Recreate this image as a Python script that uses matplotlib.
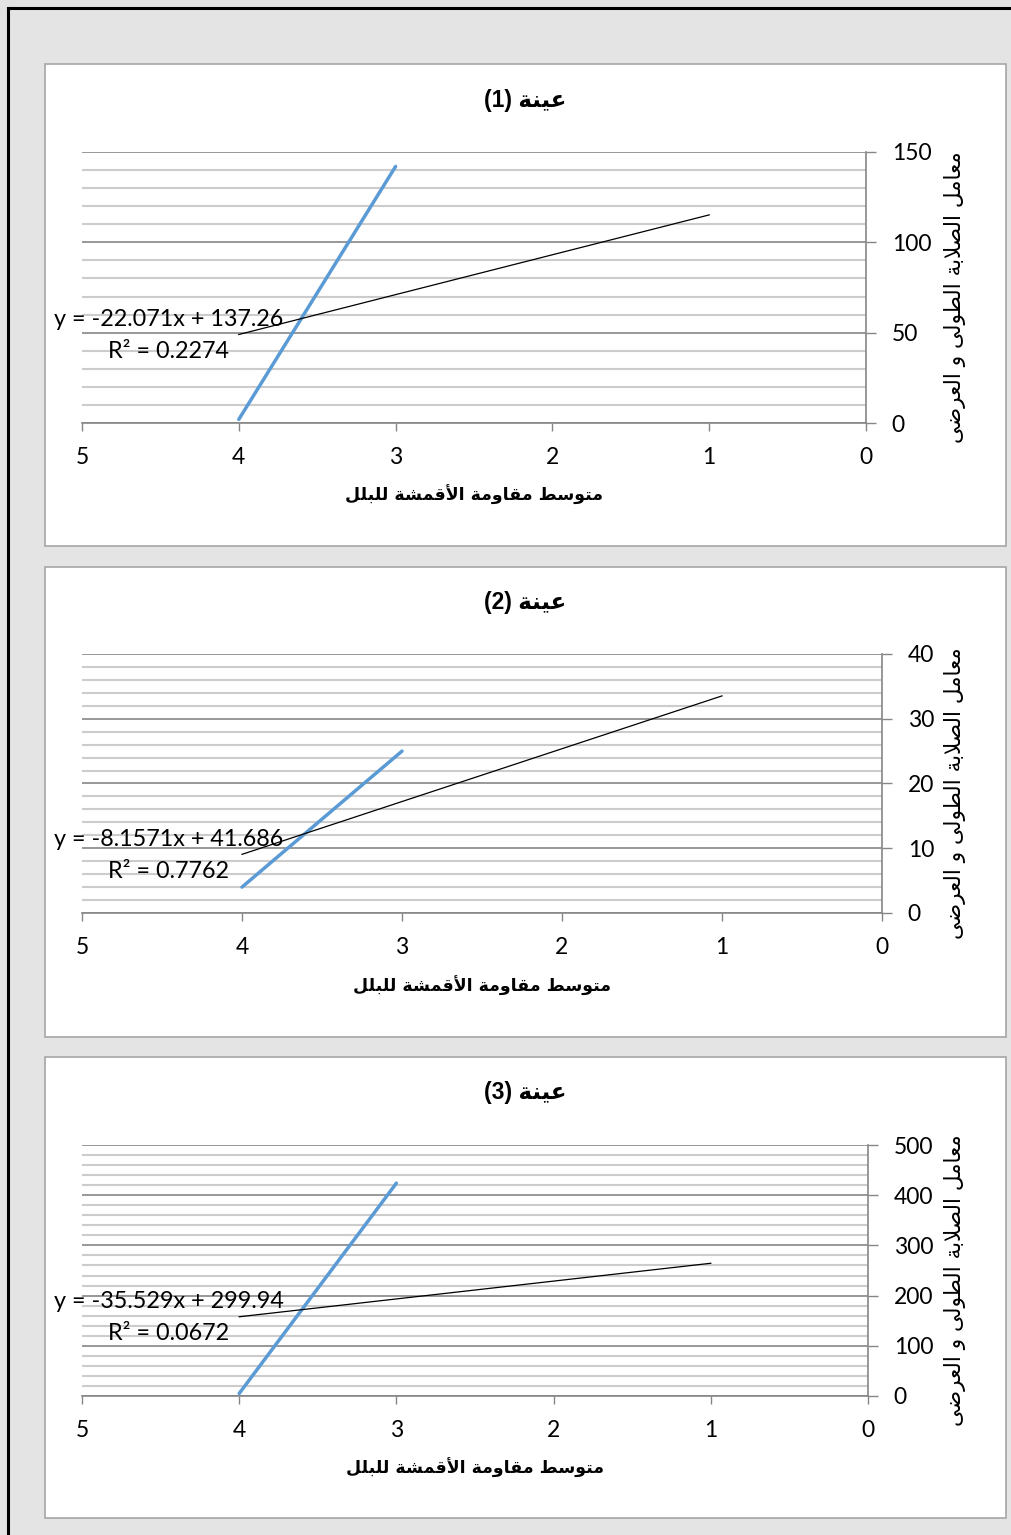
import matplotlib
matplotlib.use("Agg")
import matplotlib.pyplot as plt
from matplotlib.patches import Rectangle
from matplotlib.lines import Line2D
from matplotlib.ticker import MultipleLocator

W, H = 1011, 1535

# data
sample_ids = [1, 2, 3]
line_x = [4, 3]
line_y1 = [2, 142]
line_y2 = [4, 25]
line_y3 = [5, 424]
trend_x = [4, 1]
slopes = [-22.071, -8.1571, -35.529]
intercepts = [137.26, 41.686, 299.94]
r2_values = [0.2274, 0.7762, 0.0672]
y_max = [150, 40, 500]
y_major = [50, 10, 100]
y_minor = [10, 2, 20]
x_ticks = [0, 1, 2, 3, 4, 5]

title_word = "عينة"
xlabel_text = "متوسط مقاومة الأقمشة للبلل"
ylabel_text = "معامل الصلابة الطولى و العرضى"

# matplotlib has no arabic shaping, so pick presentation forms by hand
# (isolated, final, initial, medial)
FORMS = {
    'ا': (0xFE8D, 0xFE8E, None, None),
    'أ': (0xFE83, 0xFE84, None, None),
    'ب': (0xFE8F, 0xFE90, 0xFE91, 0xFE92),
    'ة': (0xFE93, 0xFE94, None, None),
    'ت': (0xFE95, 0xFE96, 0xFE97, 0xFE98),
    'ر': (0xFEAD, 0xFEAE, None, None),
    'س': (0xFEB1, 0xFEB2, 0xFEB3, 0xFEB4),
    'ش': (0xFEB5, 0xFEB6, 0xFEB7, 0xFEB8),
    'ص': (0xFEB9, 0xFEBA, 0xFEBB, 0xFEBC),
    'ض': (0xFEBD, 0xFEBE, 0xFEBF, 0xFEC0),
    'ط': (0xFEC1, 0xFEC2, 0xFEC3, 0xFEC4),
    'ع': (0xFEC9, 0xFECA, 0xFECB, 0xFECC),
    'ق': (0xFED5, 0xFED6, 0xFED7, 0xFED8),
    'ل': (0xFEDD, 0xFEDE, 0xFEDF, 0xFEE0),
    'م': (0xFEE1, 0xFEE2, 0xFEE3, 0xFEE4),
    'ن': (0xFEE5, 0xFEE6, 0xFEE7, 0xFEE8),
    'و': (0xFEED, 0xFEEE, None, None),
    'ى': (0xFEEF, 0xFEF0, 0xFBE8, 0xFBE9),
    'ي': (0xFEF1, 0xFEF2, 0xFEF3, 0xFEF4),
}
LAM_ALEF = {'ا': (0xFEFB, 0xFEFC), 'أ': (0xFEF7, 0xFEF8)}


def ar(text):
    units = []
    i = 0
    while i < len(text):
        c = text[i]
        if c == 'ل' and i + 1 < len(text) and text[i + 1] in LAM_ALEF:
            units.append(('LA', text[i + 1]))
            i += 2
        else:
            units.append(('C', c))
            i += 1
    res = []
    for k, (kind, c) in enumerate(units):
        prev = units[k - 1] if k > 0 else None
        nxt = units[k + 1] if k + 1 < len(units) else None
        joins_prev = (prev is not None and prev[0] == 'C' and prev[1] in FORMS
                      and FORMS[prev[1]][2] is not None)
        if kind == 'LA':
            res.append(chr(LAM_ALEF[c][1] if joins_prev else LAM_ALEF[c][0]))
            continue
        if c not in FORMS:
            res.append(c)
            continue
        f = FORMS[c]
        joins_next = (f[2] is not None and nxt is not None
                      and (nxt[0] == 'LA' or nxt[1] in FORMS))
        if joins_prev and joins_next:
            g = f[3]
        elif joins_prev:
            g = f[1]
        elif joins_next:
            g = f[2]
        else:
            g = f[0]
        res.append(chr(g))
    return ''.join(reversed(res))


NUM_FONT = 'Lato'
AR_FONT = 'DejaVu Sans'
TITLE_FONT = ['Liberation Sans', 'DejaVu Sans']


def fx(px):
    return px / W


def fy(py):
    return 1 - py / H


fig = plt.figure(figsize=(W / 100, H / 100), dpi=100, facecolor='#e4e4e4')

# outer black frame (left and top only are visible)
fig.add_artist(Line2D([fx(8), fx(8)], [fy(8), fy(H)], color='black', lw=2.2))
fig.add_artist(Line2D([fx(8), fx(W)], [fy(8), fy(8)], color='black', lw=2.2))

# panel boxes (top, bottom) and plot areas (left, right, top, bottom) in pixels
boxes = [(64, 546), (567, 1037), (1057, 1518)]
areas = [(82, 866, 152, 423), (82, 882, 654, 913), (82, 868, 1145, 1396)]
title_y = [101, 603, 1093]
xlabel_y = [495, 986, 1468]
eq_y = [320, 840, 1302]
r2_y = [352, 871, 1333]
series = [line_y1, line_y2, line_y3]

for p in range(3):
    top, bot = boxes[p]
    fig.add_artist(Rectangle((fx(45), fy(bot)), fx(1006) - fx(45), fy(top) - fy(bot),
                             transform=fig.transFigure, facecolor='white',
                             edgecolor='#a6a6a6', lw=1.2, zorder=0))

    l, r, t, b = areas[p]
    ax = fig.add_axes([fx(l), fy(b), fx(r) - fx(l), fy(t) - fy(b)])
    ax.set_facecolor('none')

    ax.plot(line_x, series[p], color='#5b9bd5', lw=2.5, solid_capstyle='round', zorder=3)
    ty = [slopes[p] * x + intercepts[p] for x in trend_x]
    ax.plot(trend_x, ty, color='black', lw=0.9, zorder=4)

    ax.set_xlim(5, 0)
    ax.set_ylim(0, y_max[p])
    ax.set_xticks(x_ticks)
    ax.yaxis.set_major_locator(MultipleLocator(y_major[p]))
    ax.yaxis.set_minor_locator(MultipleLocator(y_minor[p]))
    ax.grid(which='major', axis='y', color='#868686', lw=1.2, zorder=1)
    ax.grid(which='minor', axis='y', color='#cccccc', lw=1.5, zorder=1)
    ax.set_axisbelow(True)

    for s in ['top', 'left']:
        ax.spines[s].set_visible(False)
    for s in ['right', 'bottom']:
        ax.spines[s].set_color('#868686')
        ax.spines[s].set_linewidth(1.2)

    ax.yaxis.tick_right()
    ax.tick_params(axis='y', which='major', direction='out', length=7.5, width=1,
                   color='#868686', pad=11, labelsize=16.5)
    ax.tick_params(axis='y', which='minor', length=0)
    ax.tick_params(axis='x', direction='out', length=6, width=1,
                   color='#868686', pad=11, labelsize=16.5)
    for lab in ax.get_xticklabels() + ax.get_yticklabels():
        lab.set_fontfamily(NUM_FONT)

    fig.text(fx(525), fy(title_y[p]), f"({sample_ids[p]}) " + ar(title_word),
             ha='center', va='center', fontsize=16.5, fontweight='bold', family=TITLE_FONT)
    fig.text(fx((l + r) / 2), fy(xlabel_y[p]), ar(xlabel_text),
             ha='center', va='center', fontsize=12.5, fontweight='bold', family=AR_FONT)
    fig.text(fx(955), fy((t + b) / 2 + 10), ar(ylabel_text), rotation=90,
             ha='center', va='center', fontsize=15.5, family=AR_FONT)

    fig.text(fx(54), fy(eq_y[p]), f"y = {slopes[p]}x + {intercepts[p]}",
             ha='left', va='center', fontsize=16.8, family=NUM_FONT)
    fig.text(fx(108), fy(r2_y[p]), f"R² = {r2_values[p]:.4f}",
             ha='left', va='center', fontsize=16.8, family=NUM_FONT)

fig.savefig('out.png', dpi=100, facecolor=fig.get_facecolor())
